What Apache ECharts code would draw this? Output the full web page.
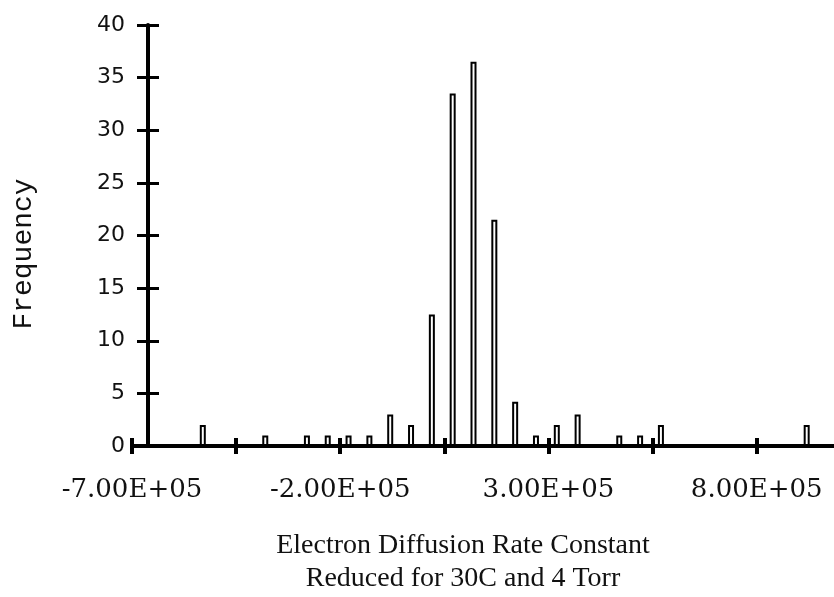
<!DOCTYPE html>
<html>
<head>
<meta charset="utf-8">
<script src="https://cdn.jsdelivr.net/npm/echarts@6/dist/echarts.min.js"></script>
<style>
html,body{margin:0;padding:0;background:#fff;}
#chart{width:834px;height:597px;}
</style>
</head>
<body>
<div id="chart"></div>
<script>
// Bin centres (rate constant) and frequencies
const binCenters = [-530000, -380000, -280000, -230000, -180000, -130000, -80000, -30000,
  20000, 70000, 120000, 170000, 220000, 270000, 320000, 370000, 470000, 520000, 570000, 920000];
const frequencies = [2, 1, 1, 1, 1, 1, 3, 2,
  12.5, 33.5, 36.5, 21.5, 4.2, 1, 2, 3, 1, 1, 2, 2];
const xLabelValues = [-700000, -200000, 300000, 800000];
const yTicks = [0, 5, 10, 15, 20, 25, 30, 35, 40];
const xTitle = ['Electron Diffusion Rate Constant', 'Reduced for 30C and 4 Torr'];
const yTitle = 'Frequency';

function fmtE(v) {
  if (v === 0) return '0.00E+00';
  const s = v.toExponential(2); // e.g. -7.00e+5
  const parts = s.split('e');
  let exp = parseInt(parts[1], 10);
  const sign = exp < 0 ? '-' : '+';
  exp = Math.abs(exp);
  return parts[0] + 'E' + sign + (exp < 10 ? '0' + exp : '' + exp);
}

const chart = echarts.init(document.getElementById('chart'), null, {renderer: 'canvas'});
const data = binCenters.map((x, i) => [x, frequencies[i]]);

const xCommon = {
  type: 'value', min: -700000, max: 1000000, interval: 250000,
  splitLine: {show: false}
};
const yCommon = {
  type: 'value', min: 0, max: 40, interval: 5,
  position: 'left', offset: -16,
  splitLine: {show: false}
};

chart.setOption({
  animation: false,
  backgroundColor: '#fff',
  grid: {left: 132, width: 708, top: 25, height: 421, containLabel: false, outerBoundsMode: 'none'},
  xAxis: [
    Object.assign({}, xCommon, {
      axisLine: {show: true, onZero: false, lineStyle: {color: '#000', width: 4}},
      axisTick: {show: true, inside: false, length: 8, lineStyle: {color: '#000', width: 4}},
      axisLabel: {
        show: true, margin: 31, color: '#111',
        fontFamily: 'DejaVu Serif', fontSize: 26,
        formatter: function (v) {
          return xLabelValues.indexOf(v) >= 0 ? fmtE(v) : '';
        }
      }
    }),
    Object.assign({}, xCommon, {
      position: 'bottom',
      axisLine: {show: false, onZero: false},
      axisTick: {show: true, inside: true, length: 8, lineStyle: {color: '#000', width: 4}},
      axisLabel: {show: false}
    })
  ],
  yAxis: [
    Object.assign({}, yCommon, {
      axisLine: {show: true, onZero: false, lineStyle: {color: '#000', width: 4}},
      axisTick: {show: true, inside: false, length: 11, lineStyle: {color: '#000', width: 3}},
      axisLabel: {
        show: true, margin: 23, color: '#111',
        fontFamily: 'DejaVu Sans', fontSize: 22,
        formatter: function (v) { return yTicks.indexOf(v) >= 0 ? String(v) : ''; }
      }
    }),
    Object.assign({}, yCommon, {
      axisLine: {show: false, onZero: false},
      axisTick: {show: true, inside: true, length: 11, lineStyle: {color: '#000', width: 3}},
      axisLabel: {show: false}
    })
  ],
  series: [{
    type: 'bar',
    xAxisIndex: 0, yAxisIndex: 0,
    data: data,
    barWidth: 6,
    itemStyle: {color: '#fff', borderColor: '#000', borderWidth: 2},
    z: 1
  }],
  graphic: [
    {
      type: 'text', x: 463, y: 546,
      style: {text: xTitle[0], font: '28px "Liberation Serif"', fill: '#111', align: 'center', verticalAlign: 'middle'}
    },
    {
      type: 'text', x: 463, y: 579,
      style: {text: xTitle[1], font: '28px "Liberation Serif"', fill: '#111', align: 'center', verticalAlign: 'middle'}
    },
    {
      type: 'text', x: 24, y: 254, rotation: Math.PI / 2,
      style: {text: yTitle, font: '28px "Liberation Mono"', fill: '#111', align: 'center', verticalAlign: 'middle'}
    }
  ]
});
</script>
</body>
</html>
